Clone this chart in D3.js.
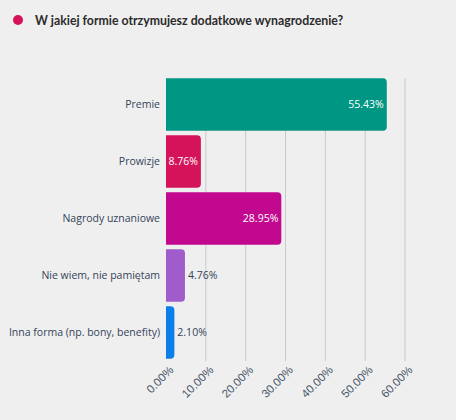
<!DOCTYPE html>
<html lang="pl">
<head>
<meta charset="UTF-8">
<title>W jakiej formie otrzymujesz dodatkowe wynagrodzenie?</title>
<script src="https://d3js.org/d3.v7.min.js"></script>
<style>
  body { margin: 0; background: #efefef; font-family: "Open Sans", sans-serif; }
  svg { display: block; }
  .title { font-family: Lato, sans-serif; font-size: 12.3px; font-weight: 700; fill: #2b2b2b; }
  .cat { font-size: 10.5px; fill: #34435a; }
  .tick text { font-size: 11.5px; fill: #4a586c; }
  .grid line { stroke: #c9c9c9; }
  .val { font-size: 10.5px; }
</style>
</head>
<body>
<svg id="chart" width="456" height="420"></svg>
<script>
  const categories = ["Premie", "Prowizje", "Nagrody uznaniowe", "Nie wiem, nie pamiętam", "Inna forma (np. bony, benefity)"];
  const values = [55.43, 8.76, 28.95, 4.76, 2.10];
  const colors = ["#009684", "#d5135a", "#c1088f", "#a05cca", "#0b7ee9"];
  const ticks = [0, 10, 20, 30, 40, 50, 60];

  const svg = d3.select("#chart");
  const W = 456, H = 420;
  svg.append("rect").attr("width", W).attr("height", H).attr("fill", "#efefef");

  // title
  svg.append("circle").attr("cx", 18).attr("cy", 20).attr("r", 5).attr("fill", "#d5135a");
  svg.append("text").attr("class", "title").attr("x", 35).attr("y", 25)
    .text("W jakiej formie otrzymujesz dodatkowe wynagrodzenie?");

  const x = d3.scaleLinear().domain([0, 60]).range([166, 405]);
  const y = d3.scaleBand().domain(categories).range([76, 361])
    .paddingInner(0.08).paddingOuter(0.04);

  // grid
  svg.append("g").attr("class", "grid")
    .selectAll("line").data(ticks.slice(1)).join("line")
    .attr("x1", d => x(d)).attr("x2", d => x(d))
    .attr("y1", 78).attr("y2", 361);

  // bars, rounded on the right side only
  const r = 4;
  function barPath(x0, x1, y0, h) {
    const rr = Math.min(r, (x1 - x0));
    return `M${x0},${y0}H${x1 - rr}Q${x1},${y0} ${x1},${y0 + rr}V${y0 + h - rr}Q${x1},${y0 + h} ${x1 - rr},${y0 + h}H${x0}Z`;
  }
  svg.append("g").selectAll("path").data(categories).join("path")
    .attr("d", (d, i) => barPath(x(0), x(values[i]), y(d), y.bandwidth()))
    .attr("fill", (d, i) => colors[i]);

  // value labels
  svg.append("g").selectAll("text").data(categories).join("text")
    .attr("class", "val")
    .attr("y", d => y(d) + y.bandwidth() / 2)
    .attr("dy", "0.35em")
    .attr("x", (d, i) => values[i] > 6 ? x(values[i]) - 3 : x(values[i]) + 3)
    .attr("text-anchor", (d, i) => values[i] > 6 ? "end" : "start")
    .attr("fill", (d, i) => values[i] > 6 ? "#ffffff" : "#34435a")
    .text((d, i) => values[i].toFixed(2) + "%");

  // category labels
  svg.append("g").selectAll("text").data(categories).join("text")
    .attr("class", "cat")
    .attr("x", 160)
    .attr("y", d => y(d) + y.bandwidth() / 2)
    .attr("dy", "0.35em")
    .attr("text-anchor", "end")
    .text(d => d);

  // x axis
  const ax = svg.append("g").attr("transform", "translate(0,361)")
    .call(d3.axisBottom(x).tickValues(ticks).tickFormat(d => d.toFixed(2) + "%").tickSize(0));
  ax.select(".domain").remove();
  ax.selectAll(".tick text")
    .attr("text-anchor", "end")
    .attr("y", 0)
    .attr("dy", "0.35em")
    .attr("transform", "translate(5,7) rotate(-45)");
</script>
</body>
</html>
